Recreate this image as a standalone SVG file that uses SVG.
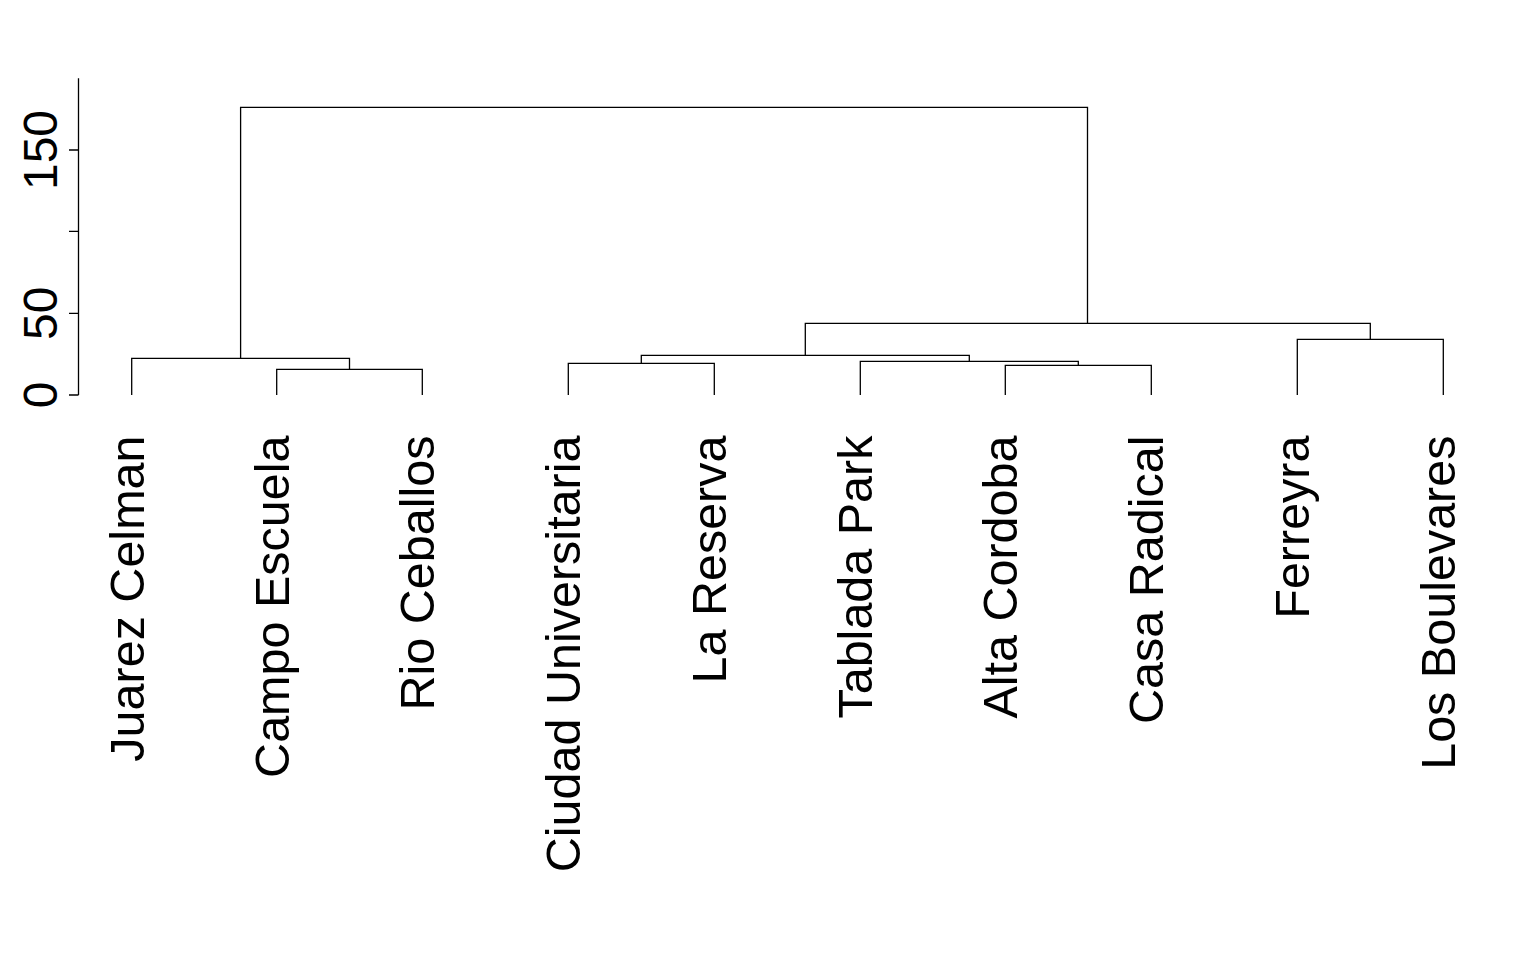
<svg xmlns="http://www.w3.org/2000/svg" width="1536" height="960" viewBox="0 0 1536 960">
<style>
.ln{fill:none;stroke:#000;stroke-width:1.3;stroke-linecap:butt;stroke-linejoin:miter}
.t{font-family:"Liberation Sans",Arial,sans-serif;font-size:48px;fill:#000}
.ax{text-anchor:middle}
.lb{text-anchor:end;font-size:48.5px}
</style>
<rect width="1536" height="960" fill="#fff"/>
<g id="axis">
<path class="ln" d="M78.5,78.3V395M69,395H78.5M69,313.3H78.5M69,231.3H78.5M69,150H78.5"/>
<text class="t ax" transform="translate(56.7,395) rotate(-90)">0</text>
<text class="t ax" transform="translate(56.7,313.3) rotate(-90)">50</text>
<text class="t ax" transform="translate(56.7,150) rotate(-90)">150</text>
</g>
<g id="connectors">
<path class="ln" d="M276.7,395V369.3H422.3V395"/>
<path class="ln" d="M131.7,395V358.3H349.5V369.3"/>
<path class="ln" d="M568.3,395V363.3H714.3V395"/>
<path class="ln" d="M1005.3,395V365.3H1151.3V395"/>
<path class="ln" d="M860.3,395V361.3H1078.3V365.3"/>
<path class="ln" d="M641.3,363.3V355.3H969.3V361.3"/>
<path class="ln" d="M1297.3,395V339.3H1443.3V395"/>
<path class="ln" d="M805.3,355.3V323.3H1370.3V339.3"/>
<path class="ln" d="M240.6,358.3V107.3H1087.5V323.3"/>
</g>
<g id="n-juarez-celman"><text class="t lb" transform="translate(143.5,435.5) rotate(-90)">Juarez Celman</text></g>
<g id="n-campo-escuela"><text class="t lb" transform="translate(289,435.5) rotate(-90)">Campo Escuela</text></g>
<g id="n-rio-ceballos"><text class="t lb" transform="translate(434.3,435.5) rotate(-90)">Rio Ceballos</text></g>
<g id="n-ciudad-universitaria"><text class="t lb" transform="translate(580.3,435.5) rotate(-90)">Ciudad Universitaria</text></g>
<g id="n-la-reserva"><text class="t lb" transform="translate(726.3,435.5) rotate(-90)">La Reserva</text></g>
<g id="n-tablada-park"><text class="t lb" transform="translate(872.3,435.5) rotate(-90)">Tablada Park</text></g>
<g id="n-alta-cordoba"><text class="t lb" transform="translate(1017.3,435.5) rotate(-90)">Alta Cordoba</text></g>
<g id="n-casa-radical"><text class="t lb" transform="translate(1163.3,435.5) rotate(-90)">Casa Radical</text></g>
<g id="n-ferreyra"><text class="t lb" transform="translate(1309.3,435.5) rotate(-90)">Ferreyra</text></g>
<g id="n-los-boulevares"><text class="t lb" transform="translate(1455.3,435.5) rotate(-90)">Los Boulevares</text></g>
</svg>
